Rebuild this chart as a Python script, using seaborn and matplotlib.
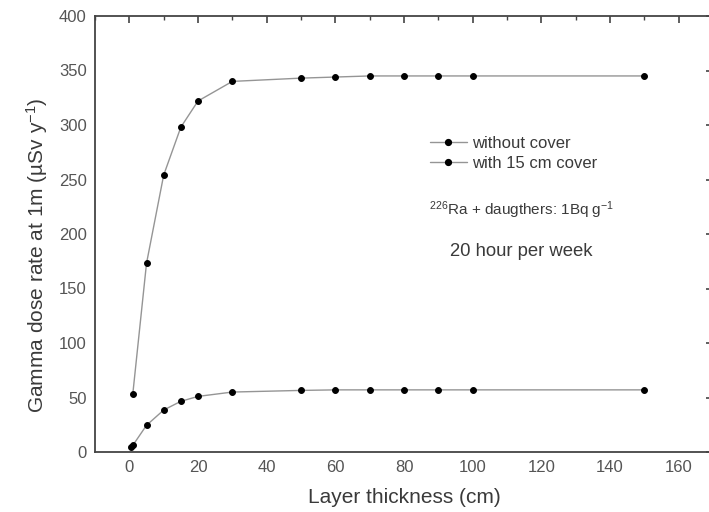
import numpy as np
import pandas as pd
import matplotlib
matplotlib.use("Agg")
import matplotlib.pyplot as plt
from matplotlib.ticker import MultipleLocator
from matplotlib.lines import Line2D
import seaborn as sns

# data
thick_nocover = [1, 5, 10, 15, 20, 30, 50, 60, 70, 80, 90, 100, 150]
dose_nocover = [53, 173, 254, 298, 322, 340, 343, 344, 345, 345, 345, 345, 345]

thick_cover = [0.5, 1, 5, 10, 15, 20, 30, 50, 60, 70, 80, 90, 100, 150]
dose_cover = [5, 6, 24.5, 38.5, 46.5, 51, 55, 56.5, 57, 57, 57, 57, 57, 57]

series_names = ["without cover", "with 15 cm cover"]

sns.set_style("white")
plt.rcParams["font.family"] = ["Liberation Sans", "DejaVu Sans"]
plt.rcParams["mathtext.fontset"] = "custom"
plt.rcParams["mathtext.rm"] = "Liberation Sans"
plt.rcParams["mathtext.it"] = "Liberation Sans:italic"

df1 = pd.DataFrame({"x": thick_nocover, "y": dose_nocover})
df2 = pd.DataFrame({"x": thick_cover, "y": dose_cover})

fig = plt.figure(figsize=(7.09, 5.12), dpi=100)
ax = fig.add_axes([95 / 709, 1 - 452 / 512, 618 / 709, 436 / 512])

txt_col = "#3a3a3a"
line_kw = dict(color="#959595", lw=1.0, marker="o", markersize=4.2,
               markerfacecolor="black", markeredgecolor="black")
sns.lineplot(data=df1, x="x", y="y", ax=ax, **line_kw)
sns.lineplot(data=df2, x="x", y="y", ax=ax, **line_kw)

ax.set_xlim(-10, 170)
ax.set_ylim(0, 400)
ax.xaxis.set_major_locator(MultipleLocator(20))
ax.xaxis.set_minor_locator(MultipleLocator(10))
ax.yaxis.set_major_locator(MultipleLocator(50))
ax.yaxis.set_minor_locator(MultipleLocator(25))
ax.tick_params(which="both", direction="in", top=True, right=True,
               colors="#444444", labelcolor="#555555")
ax.tick_params(which="major", length=5, width=1.2, labelsize=12, pad=6)
ax.tick_params(which="minor", length=3, width=1.0)
for sp in ax.spines.values():
    sp.set_color("#444444")
    sp.set_linewidth(1.3)

ax.set_xlabel("Layer thickness (cm)", fontsize=15, color=txt_col, labelpad=9)
ax.set_ylabel("Gamma dose rate at 1m (µSv y$^{-1}$)", fontsize=15, color=txt_col)
ax.yaxis.set_label_coords(-0.073, 0.452)

handles = [Line2D([], [], **line_kw) for _ in series_names]
ax.legend(handles, series_names, loc="upper left", bbox_to_anchor=(0.542, 0.725),
          frameon=False, fontsize=12, handlelength=2.2, handletextpad=0.3,
          labelspacing=0.32, borderpad=0, borderaxespad=0, labelcolor=txt_col)

ax.text(0.540, 0.555, "$^{226}$Ra + daugthers: 1Bq g$^{-1}$", transform=ax.transAxes,
        fontsize=11, color=txt_col, va="center")
ax.text(0.574, 0.459, "20 hour per week", transform=ax.transAxes,
        fontsize=13.3, color=txt_col, va="center")

fig.savefig("out.png", dpi=100)
